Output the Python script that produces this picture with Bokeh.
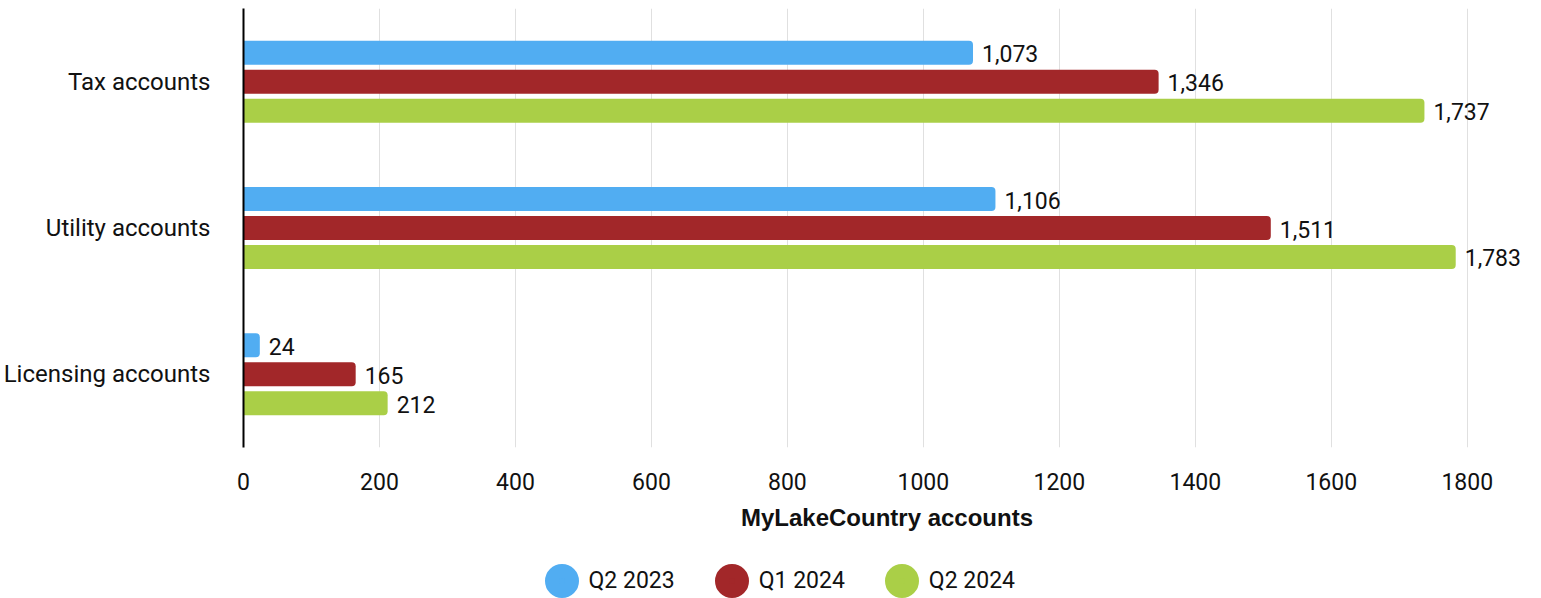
from bokeh.plotting import figure
from bokeh.models import FactorRange, Range1d, ColumnDataSource, Legend, LegendItem, FixedTicker
from bokeh.layouts import column
from bokeh.transform import dodge
from bokeh.core.properties import value
from bokeh.embed import file_html
from bokeh.resources import INLINE

CATEGORIES = ["Tax accounts", "Utility accounts", "Licensing accounts"]
SERIES = ["Q2 2023", "Q1 2024", "Q2 2024"]
Q2_2023 = [1073, 1106, 24]
Q1_2024 = [1346, 1511, 165]
Q2_2024 = [1737, 1783, 212]
COLORS = ["#51ADF2", "#A22729", "#AACF47"]
X_TICKS = [0, 200, 400, 600, 800, 1000, 1200, 1400, 1600, 1800]
X_LABEL = "MyLakeCountry accounts"

FONT = "Roboto"
FS = "23px"
TXT = "#111111"

p = figure(
    width=1541, height=540,
    y_range=FactorRange(factors=list(reversed(CATEGORIES)), range_padding=0),
    x_range=Range1d(0, 1893),
    output_backend="svg", toolbar_location=None,
    min_border_left=243, min_border_right=11, min_border_top=8, min_border_bottom=93,
)
p.outline_line_color = None
p.background_fill_color = None
p.border_fill_color = None

offsets = [0.198, 0.0, -0.198]
values = [Q2_2023, Q1_2024, Q2_2024]
for vals, col, off in zip(values, COLORS, offsets):
    src = ColumnDataSource(dict(cat=CATEGORIES, val=vals,
                                lab=[f"{v:,}" for v in vals]))
    p.hbar(y=dodge("cat", off, range=p.y_range), right="val", left=0, height=0.164,
           source=src, fill_color=col, line_color=None,
           border_radius=(0, 4, 4, 0))
    p.text(x="val", y=dodge("cat", off, range=p.y_range), text="lab", source=src,
           x_offset=9, y_offset=1, text_baseline="middle", text_align="left",
           text_font=value(FONT), text_font_size=FS, text_color=TXT)

# x axis
p.xaxis.ticker = FixedTicker(ticks=X_TICKS)
p.xaxis.axis_line_color = None
p.xaxis.major_tick_line_color = None
p.xaxis.minor_tick_line_color = None
p.xaxis.major_label_standoff = 19
p.xaxis.major_label_text_font = FONT
p.xaxis.major_label_text_font_size = FS
p.xaxis.major_label_text_color = TXT
p.xaxis.axis_label = X_LABEL
p.xaxis.axis_label_text_font = "Liberation Sans"
p.xaxis.axis_label_text_font_size = "24px"
p.xaxis.axis_label_text_font_style = "bold"
p.xaxis.axis_label_text_color = TXT
p.xaxis.axis_label_standoff = 11

# y axis
p.yaxis.axis_line_color = "#000000"
p.yaxis.axis_line_width = 2
p.yaxis.major_tick_line_color = None
p.yaxis.minor_tick_line_color = None
p.yaxis.major_label_standoff = 27
p.yaxis.major_label_text_font = FONT
p.yaxis.major_label_text_font_size = "24px"
p.yaxis.major_label_text_color = TXT

p.xgrid.grid_line_color = "#e0e0e0"
p.xgrid.grid_line_width = 1
p.ygrid.grid_line_color = None

# legend strip
lg = figure(width=1541, height=58, x_range=Range1d(0, 1), y_range=Range1d(0, 1),
            output_backend="svg", toolbar_location=None,
            x_axis_location=None, y_axis_location=None,
            min_border_left=243, min_border_right=11, min_border_top=0, min_border_bottom=0)
lg.outline_line_color = None
lg.background_fill_color = None
lg.border_fill_color = None
lg.xgrid.grid_line_color = None
lg.ygrid.grid_line_color = None
items = []
for name, col in zip(SERIES, COLORS):
    r = lg.scatter(x=[-10], y=[-10], size=1, marker="circle", fill_color=col,
                   line_color=col, line_width=20)
    items.append(LegendItem(label=name, renderers=[r]))
legend = Legend(items=items, orientation="horizontal",
                glyph_width=35, glyph_height=35, label_standoff=10, spacing=39,
                padding=0, margin=0, border_line_color=None, background_fill_alpha=0,
                label_text_font=FONT, label_text_font_size=FS, label_text_color=TXT,
                location=(300.5, 0.5))
lg.add_layout(legend, "center")

layout = column(p, lg, spacing=0)
open("out.html", "w").write(file_html(layout, INLINE))
